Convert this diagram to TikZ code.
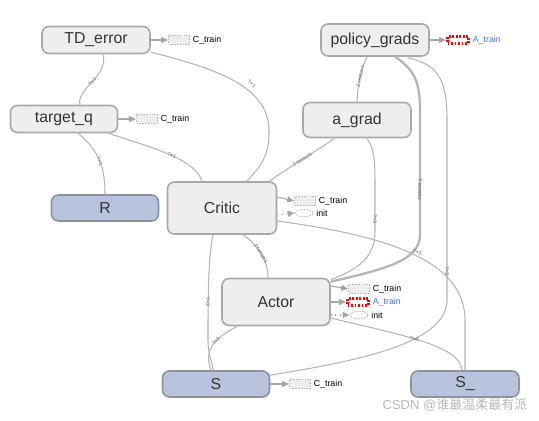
\documentclass[tikz,border=0pt]{standalone}
\usepackage{fontspec}
\setsansfont{Liberation Sans}
\newfontfamily\cjk{Noto Sans CJK SC}
\usepackage{tikz}
\usetikzlibrary{calc}
\usetikzlibrary{arrows.meta}
\usetikzlibrary{shapes.geometric}

\definecolor{opfill}{HTML}{EEEEEE}
\definecolor{opdraw}{HTML}{A8A8A8}
\definecolor{phfill}{HTML}{B9C4DC}
\definecolor{phdraw}{HTML}{8A93A6}
\definecolor{edgecol}{HTML}{B4B4B4}
\definecolor{textcol}{HTML}{333333}
\definecolor{linkblue}{HTML}{3D7BE8}

\tikzset{
  opnode/.style={draw=opdraw, fill=opfill, line width=0.9pt, rounded corners=4pt,
    text=textcol, font=\sffamily\fontsize{9}{10}\selectfont, inner sep=0pt},
  phnode/.style={opnode, draw=phdraw, fill=phfill},
  edge/.style={draw=edgecol, line width=0.6pt},
  elabel/.style={sloped, inner sep=0.3pt, text=gray!80!black,
    font=\sffamily\fontsize{3}{3}\selectfont},
  outbox/.style={draw=gray!55, fill=opfill, dash pattern=on 1pt off 0.6pt, line width=0.4pt,
    minimum width=0.42cm, minimum height=0.17cm, inner sep=0pt},
  redbox/.style={draw=red, fill=white, line width=1.6pt, dash pattern=on 1.1pt off 0.9pt,
    minimum width=0.42cm, minimum height=0.14cm, inner sep=0pt},
  initbox/.style={ellipse, draw=gray!55, fill=white, dash pattern=on 1pt off 0.6pt, line width=0.4pt,
    minimum width=0.36cm, minimum height=0.15cm, inner sep=0pt},
  outtext/.style={font=\sffamily\fontsize{5}{6}\selectfont, text=black, inner sep=1.5pt},
  outarrow/.style={draw=gray!70, line width=0.6pt, -{Triangle[length=4pt,width=3.4pt]}},
}

\begin{document}
\begin{tikzpicture}[x=0.02cm, y=-0.02cm]
    % frame of the whole picture (pixels of the screenshot)
    \useasboundingbox (0,0) rectangle (539,421);

    % the ops
    \node[opnode, minimum width=2.16cm, minimum height=0.54cm] (tderr)  at (96,40)  {TD\_error};
    \node[opnode, minimum width=2.14cm, minimum height=0.54cm] (targq)  at (64,119) {target\_q};
    \node[opnode, minimum width=2.18cm, minimum height=1.04cm] (critic) at (222,208) {Critic};
    \node[opnode, minimum width=2.16cm, minimum height=0.64cm] (pgrads) at (375,40) {policy\_grads};
    \node[opnode, minimum width=2.16cm, minimum height=0.70cm] (agrad)  at (357,120) {a\_grad};
    \node[opnode, minimum width=2.16cm, minimum height=0.94cm] (actor)  at (276,302) {Actor};

    % the placeholders
    \node[phnode, minimum width=2.14cm, minimum height=0.52cm] (R)     at (105,208) {R};
    \node[phnode, minimum width=2.14cm, minimum height=0.52cm] (S)     at (216,384) {S};
    \node[phnode, minimum width=2.16cm, minimum height=0.52cm] (Snext) at (465,384) {S\_};

    % data edges
    \draw[edge] ($(tderr.south)+(7,0)$) .. controls ($(tderr.south)+(13,22)$) and ($(targq.north)+(12,-16)$) .. ($(targq.north)+(16,0)$)
        node[elabel, pos=0.5] {?×1};
    \draw[edge] ($(tderr.south east)+(0,-2)$) .. controls (232,72) and (268,92) .. (269,130)
        .. controls (270,160) and (256,170) .. ($(critic.north)+(25,0)$);
    \node[elabel, rotate=-35] (lblA) at (252,84) {?×1};
    \draw[edge] ($(targq.south)+(14,0)$) .. controls ($(targq.south)+(36,18)$) and ($(R.north)+(0,-25)$) .. (R.north)
        node[elabel, pos=0.5] {?×1};
    \draw[edge] ($(targq.south east)+(-10,0)$) .. controls (160,150) and (195,160) .. ($(critic.north)+(-20,0)$)
        node[elabel, pos=0.5] {?×1};
    \draw[edge] ($(agrad.south)+(-22,0)$) .. controls (310,155) and (285,170) .. ($(critic.north east)+(-8,0)$)
        node[elabel, pos=0.45] {3 tensors};
    \draw[edge] ($(pgrads.south)+(-8,0)$) .. controls (360,72) and (358,85) .. (agrad.north)
        node[elabel, pos=0.45] {2 tensors};
    \draw[edge, line width=1.3pt] ($(pgrads.south)+(20,0)$) .. controls (415,70) and (420,82) .. (420,112)
        -- node[elabel, pos=0.63] {7 tensors} (420,235)
        .. controls (420,262) and (380,270) .. ($(actor.north east)+(0,4)$);
    \draw[edge] ($(pgrads.south)+(33,1)$) .. controls (440,65) and (447,82) .. (447,120)
        -- node[elabel, pos=0.84] {?×3} (447,300)
        .. controls (447,345) and (350,362) .. ($(S.north east)+(0,5)$);
    \draw[edge] ($(agrad.south)+(10,0)$) .. controls (375,150) and (375,162) .. (375,190)
        -- node[elabel, pos=0.7] {?×3} (375,232)
        .. controls (375,262) and (350,272) .. ($(actor.north east)+(0,2)$);
    \draw[edge] ($(critic.east)+(0,13)$) .. controls (380,235) and (465,258) .. (465,320)
        -- (Snext.north);
    \node[elabel, rotate=-16] (lblB) at (417,252) {?×3};
    \draw[edge] ($(actor.east)+(0,16)$) .. controls (400,335) and (460,345) .. ($(Snext.north)+(-3,0)$)
        node[elabel, pos=0.45] {?×3};
    \draw[edge] ($(critic.south)+(21,0)$) .. controls (258,245) and (268,260) .. ($(actor.north)+(-8,0)$)
        node[elabel, pos=0.5] {2 tensors};
    \draw[edge] ($(critic.south)+(-9,0)$) .. controls (208,260) and (208,300) .. (208,340)
        .. controls (208,355) and (212,360) .. ($(S.north)+(-3,0)$);
    \node[elabel, rotate=-90] (lblC) at (208,302) {?×3};
    \draw[edge] ($(actor.south west)+(16,0)$) .. controls (215,338) and (203,350) .. ($(S.north)+(-5,0)$)
        node[elabel, pos=0.4] {?×3};

    % small outputs (train ops and init)
    \node[outbox, label={[outtext]right:C\_train}] (tderrCT) at (179,40) {};
    \draw[outarrow] (tderr.east) -- (tderrCT.west);

    \node[outbox, label={[outtext]right:C\_train}] (targqCT) at (147,119) {};
    \draw[outarrow] (targq.east) -- (targqCT.west);

    \node[outbox, label={[outtext]right:C\_train}] (criticCT) at (305,201) {};
    \draw[outarrow] ($(critic.east)+(0,-11)$) -- (criticCT.west);
    \node[initbox, label={[outtext]right:init}] (criticIN) at (304,213) {};
    \draw[outarrow, dotted] ($(critic.east)+(0,7)$) -- (criticIN.west);

    \node[redbox, label={[outtext, text=linkblue]right:A\_train}] (pgradsAT) at (458,40) {};
    \draw[outarrow] (pgrads.east) -- (pgradsAT.west);

    \node[outbox, label={[outtext]right:C\_train}] (actorCT) at (359,289) {};
    \draw[outarrow] ($(actor.east)+(0,-16)$) -- (actorCT.west);
    \node[redbox, label={[outtext, text=linkblue]right:A\_train}] (actorAT) at (358,302) {};
    \draw[outarrow] (actor.east) -- (actorAT.west);
    \node[initbox, label={[outtext]right:init}] (actorIN) at (359,315) {};
    \draw[outarrow, dotted] ($(actor.east)+(0,13)$) -- (actorIN.west);

    \node[outbox, label={[outtext]right:C\_train}] (SCT) at (300,384) {};
    \draw[outarrow] (S.east) -- (SCT.west);

    % watermark
    \node[text=gray!55, font=\sffamily\fontsize{7.4}{8}\selectfont] (mark) at (455,405) {CSDN @{\cjk 谁最温柔最有派}};
\end{tikzpicture}
\end{document}
